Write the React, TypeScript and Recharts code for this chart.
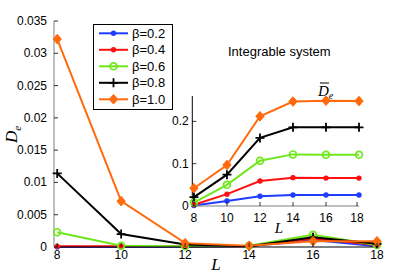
import React from 'react';
import { LineChart, Line, XAxis, YAxis } from 'recharts';

// system sizes L
const sizes = [8, 10, 12, 14, 16, 18];
const betaLabels = ['β=0.2', 'β=0.4', 'β=0.6', 'β=0.8', 'β=1.0'];
const colors = ['#1f3cff', '#ff1010', '#6ee81c', '#000000', '#ff6a0d'];
const markers = ['dot', 'dot', 'circle', 'plus', 'diamond'];

// main panel: D_e
const mainB02 = [0.0, 0.0, 0.0, 0.0001, 0.0011, 0.0001];
const mainB04 = [0.0001, 0.0001, 0.0001, 0.0001, 0.0013, 0.0003];
const mainB06 = [0.0023, 0.0002, 0.0001, 0.0002, 0.0019, 0.0003];
const mainB08 = [0.0114, 0.002, 0.0004, 0.0001, 0.0015, 0.0005];
const mainB10 = [0.0322, 0.0071, 0.0006, 0.0002, 0.0009, 0.0009];

// inset: averaged D_e
const insetB02 = [0.001, 0.012, 0.023, 0.026, 0.026, 0.026];
const insetB04 = [0.003, 0.028, 0.059, 0.067, 0.066, 0.066];
const insetB06 = [0.008, 0.05, 0.107, 0.122, 0.121, 0.121];
const insetB08 = [0.021, 0.074, 0.161, 0.186, 0.186, 0.186];
const insetB10 = [0.042, 0.097, 0.212, 0.247, 0.249, 0.248];

const mainYTicks = [0, 0.005, 0.01, 0.015, 0.02, 0.025, 0.03, 0.035];
const insetYTicks = [0, 0.1, 0.2];

const keys = ['b02', 'b04', 'b06', 'b08', 'b10'];

const mainData = sizes.map((L, i) => ({
  L,
  b02: mainB02[i],
  b04: mainB04[i],
  b06: mainB06[i],
  b08: mainB08[i],
  b10: mainB10[i],
}));

const insetData = sizes.map((L, i) => ({
  L,
  b02: insetB02[i],
  b04: insetB04[i],
  b06: insetB06[i],
  b08: insetB08[i],
  b10: insetB10[i],
}));

const sans = 'Liberation Sans, Arial, sans-serif';
const serif = 'Liberation Serif, Times New Roman, serif';

function Marker({ kind, cx, cy, color }: any) {
  if (cx == null || cy == null) return null;
  if (kind === 'dot') return <circle cx={cx} cy={cy} r={2.7} fill={color} />;
  if (kind === 'circle')
    return <circle cx={cx} cy={cy} r={3.4} fill="none" stroke={color} strokeWidth={1.7} />;
  if (kind === 'plus')
    return (
      <path
        d={`M${cx - 4.5},${cy}H${cx + 4.5}M${cx},${cy - 4.5}V${cy + 4.5}`}
        stroke={color}
        strokeWidth={1.8}
      />
    );
  return (
    <path
      d={`M${cx},${cy - 4.8}L${cx + 4.2},${cy}L${cx},${cy + 4.8}L${cx - 4.2},${cy}Z`}
      fill={color}
      stroke={color}
      strokeWidth={1}
    />
  );
}

const fmt = (v: number) => String(v);

// inward tick renderers (MATLAB style)
const leftTick = (m: number) => (p: any) => {
  const ax = p.x + m;
  return (
    <g key={p.index}>
      <line x1={ax} x2={ax + 4} y1={p.y} y2={p.y} stroke="#000" strokeWidth={0.8} />
      <text x={p.x} y={p.y} textAnchor="end" dominantBaseline="central" fontFamily={sans} fontSize={12} fill="#000">
        {fmt(p.payload.value)}
      </text>
    </g>
  );
};
const rightTick = (p: any) => (
  <g key={p.index}>
    <line x1={p.x} x2={p.x - 4} y1={p.y} y2={p.y} stroke="#000" strokeWidth={0.8} />
  </g>
);
const bottomTick = (m: number) => (p: any) => {
  const ay = p.y - m;
  return (
    <g key={p.index}>
      <line x1={p.x} x2={p.x} y1={ay} y2={ay - 4} stroke="#000" strokeWidth={0.8} />
      <text x={p.x} y={p.y} dy="0.72em" textAnchor="middle" fontFamily={sans} fontSize={12} fill="#000">
        {fmt(p.payload.value)}
      </text>
    </g>
  );
};
const topTick = (p: any) => (
  <g key={p.index}>
    <line x1={p.x} x2={p.x} y1={p.y} y2={p.y + 4} stroke="#000" strokeWidth={0.8} />
  </g>
);

function Series() {
  return keys.map((k, i) => (
    <Line
      key={k}
      dataKey={k}
      type="linear"
      stroke={colors[i]}
      strokeWidth={2}
      isAnimationActive={false}
      dot={(p: any) => <Marker key={`${k}-${p.index}`} kind={markers[i]} cx={p.cx} cy={p.cy} color={colors[i]} />}
      activeDot={false}
    />
  ));
}

export default function App() {
  return (
    <div style={{ position: 'absolute', left: 0, top: 0, width: 415, height: 277, background: '#fff' }}>
      {/* main panel */}
      <div style={{ position: 'absolute', left: 0, top: 0 }}>
        <LineChart width={415} height={277} data={mainData} margin={{ top: 21, right: 38, bottom: 0, left: 0 }}>
          <XAxis
            dataKey="L"
            type="number"
            domain={[7.9, 18]}
            ticks={sizes}
            height={30}
            axisLine={{ stroke: '#000' }}
            tickLine={false}
            tickSize={0}
            tickMargin={3}
            tick={bottomTick(3)}
          />
          <XAxis
            xAxisId="top"
            dataKey="L"
            type="number"
            orientation="top"
            domain={[7.9, 18]}
            ticks={sizes}
            height={0}
            axisLine={{ stroke: '#000' }}
            tickLine={false}
            tickSize={0}
            tickMargin={0}
            tick={topTick}
          />
          <YAxis
            type="number"
            domain={[0, 0.035]}
            ticks={mainYTicks}
            width={54}
            axisLine={{ stroke: '#808080' }}
            tickLine={false}
            tickSize={0}
            tickMargin={7}
            tick={leftTick(7)}
          />
          <YAxis
            yAxisId="right"
            orientation="right"
            type="number"
            domain={[0, 0.035]}
            ticks={mainYTicks}
            width={0}
            axisLine={{ stroke: '#000' }}
            tickLine={false}
            tickSize={0}
            tickMargin={0}
            tick={rightTick}
          />
          {Series()}
        </LineChart>
      </div>

      {/* inset panel */}
      <div style={{ position: 'absolute', left: 150, top: 90 }}>
        <LineChart width={215} height={150} data={insetData} margin={{ top: 6, right: 6, bottom: 0, left: 0 }}>
          <XAxis
            dataKey="L"
            type="number"
            domain={[7.9, 18]}
            ticks={sizes}
            height={34}
            axisLine={{ stroke: '#808080' }}
            tickLine={false}
            tickSize={0}
            tickMargin={7}
            tick={bottomTick(7)}
          />
          <XAxis
            xAxisId="top"
            dataKey="L"
            type="number"
            orientation="top"
            domain={[7.9, 18]}
            ticks={sizes}
            height={0}
            axisLine={{ stroke: '#808080' }}
            tickLine={false}
            tickSize={0}
            tickMargin={0}
            tick={topTick}
          />
          <YAxis
            type="number"
            domain={[0, 0.26]}
            ticks={insetYTicks}
            width={42.3}
            axisLine={{ stroke: '#000' }}
            tickLine={false}
            tickSize={0}
            tickMargin={3.5}
            tick={leftTick(3.5)}
          />
          <YAxis
            yAxisId="right"
            orientation="right"
            type="number"
            domain={[0, 0.26]}
            ticks={insetYTicks}
            width={0}
            axisLine={{ stroke: '#808080' }}
            tickLine={false}
            tickSize={0}
            tickMargin={0}
            tick={rightTick}
          />
          {Series()}
        </LineChart>
      </div>

      {/* labels and legend */}
      <svg width={415} height={277} style={{ position: 'absolute', left: 0, top: 0, pointerEvents: 'none' }}>
        <g transform="translate(17,143) rotate(-90)">
          <text x={0} y={0} textAnchor="start" fontFamily={serif} fontStyle="italic" fontSize={17} fill="#000">
            D<tspan fontSize={11} dy={4}>e</tspan>
          </text>
        </g>
        <text x={216} y={270} textAnchor="middle" fontFamily={serif} fontStyle="italic" fontSize={17} fill="#000">
          L
        </text>
        <text x={279} y={233} textAnchor="middle" fontFamily={serif} fontStyle="italic" fontSize={15} fill="#000">
          L
        </text>
        <g>
          <text x={318} y={96} fontFamily={serif} fontStyle="italic" fontSize={15} fill="#000">
            D<tspan fontSize={10} dy={3}>e</tspan>
          </text>
          <line x1={320} x2={329} y1={83} y2={83} stroke="#000" strokeWidth={1} />
        </g>
        <text x={228} y={56} fontFamily={sans} fontSize={13} fill="#000">
          Integrable system
        </text>
        <rect x={93.5} y={24.5} width={79} height={85} fill="#fff" stroke="#000" strokeWidth={1} />
        {betaLabels.map((lab, i) => {
          const y = 33.3 + i * 16.5;
          return (
            <g key={lab}>
              <line x1={99} x2={128} y1={y} y2={y} stroke={colors[i]} strokeWidth={2} />
              <Marker kind={markers[i]} cx={113.5} cy={y} color={colors[i]} />
              <text x={132} y={y} dominantBaseline="central" fontFamily={sans} fontSize={13} fill="#000">
                {lab}
              </text>
            </g>
          );
        })}
      </svg>
    </div>
  );
}
